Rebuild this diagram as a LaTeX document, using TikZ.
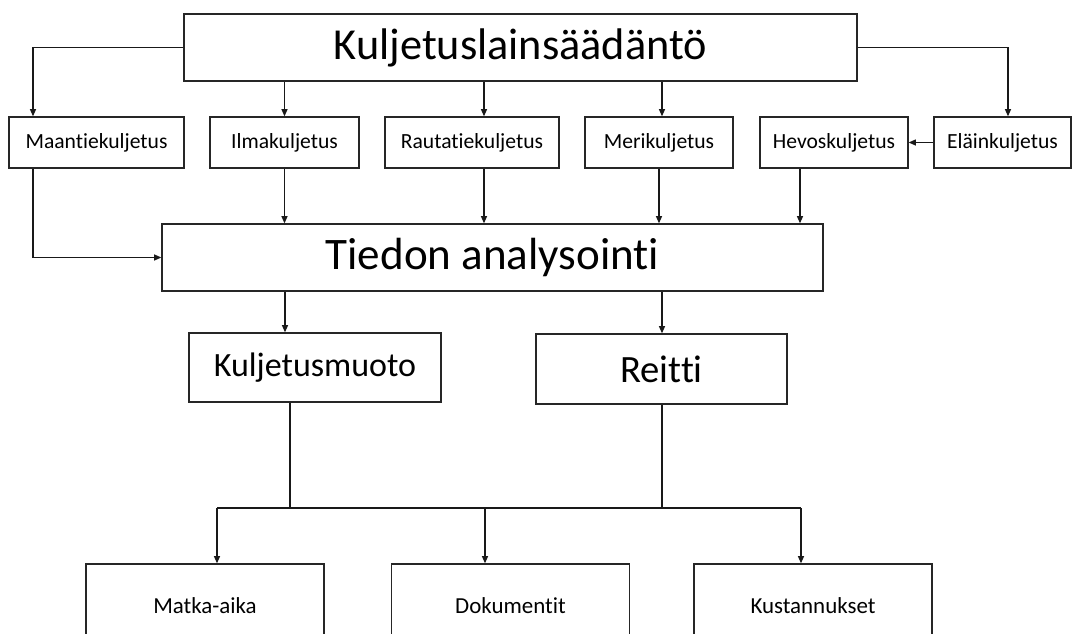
\documentclass[tikz,border=0pt]{standalone}
\usepackage{fontspec}
\setmainfont{Carlito}[Ligatures={NoCommon}]
\usetikzlibrary{arrows.meta}
\begin{document}
\begin{tikzpicture}[x=0.75pt,y=-0.75pt,
  box/.style={draw=black!85,line width=0.9pt,inner sep=0pt,align=center,text=black},
  rowbox/.style={box,minimum height=38.25pt,font=\fontsize{16.2}{20}\selectfont},
  botbox/.style={box,minimum width=178.5pt,minimum height=63pt,font=\fontsize{17.2}{20}\selectfont},
  conn/.style={line width=1pt,draw=black!90},
  arr/.style={conn,-{Triangle[length=5.5pt,width=4.5pt]}}]
\useasboundingbox (0,0) rectangle (1072,633);
\clip (0,0) rectangle (1072,633);
% nodes
\node[box,minimum width=504.75pt,minimum height=50.25pt,font=\fontsize{33.2}{38}\selectfont] (top) at (520.5,47.5) {Kuljetuslainsäädäntö};
\node[rowbox,minimum width=131.25pt] (maan) at (96.5,142.5) {Maantiekuljetus};
\node[rowbox,minimum width=111.75pt] (ilma) at (284.5,142.5) {Ilmakuljetus};
\node[rowbox,minimum width=130.5pt] (raut) at (472,142.5) {Rautatiekuljetus};
\node[rowbox,minimum width=111pt] (meri) at (659,142.5) {Merikuljetus};
\node[rowbox,minimum width=111pt] (hevos) at (834,142.5) {Hevoskuljetus};
\node[rowbox,minimum width=102.75pt] (elain) at (1002.5,142.5) {Eläinkuljetus};
\node[box,minimum width=495.75pt,minimum height=50.25pt,font=\fontsize{33.8}{38}\selectfont] (tied) at (492.5,257.5) {Tiedon analysointi};
\node[box,minimum width=189pt,minimum height=51.75pt,font=\fontsize{25.5}{30}\selectfont] (kulj) at (315,367.5) {Kuljetusmuoto};
\node[box,minimum width=188.25pt,minimum height=52.5pt,font=\fontsize{29}{34}\selectfont] (reitti) at (661.5,369) {Reitti};
\node[botbox] (matka) at (205,606) {Matka-aika};
\node[botbox] (doku) at (510.5,606) {Dokumentit};
\node[botbox] (kust) at (813,606) {Kustannukset};
% top to row
\draw[arr] (top.west) -| (33,0 |- maan.north);
\draw[arr] (top.east) -| (1008,0 |- elain.north);
\draw[arr] (284.5,0 |- top.south) -- (ilma.north);
\draw[arr] (484,0 |- top.south) -- (484,0 |- raut.north);
\draw[arr] (662,0 |- top.south) -- (662,0 |- meri.north);
\draw[arr] (elain.west) -- (hevos.east);
% row to analysis
\draw[arr] (33,0 |- maan.south) |- (tied.west);
\draw[arr] (ilma.south) -- (284.5,0 |- tied.north);
\draw[arr] (484,0 |- raut.south) -- (484,0 |- tied.north);
\draw[arr] (659,0 |- meri.south) -- (659,0 |- tied.north);
\draw[arr] (800,0 |- hevos.south) -- (800,0 |- tied.north);
% analysis to second level
\draw[arr] (285,0 |- tied.south) -- (285,0 |- kulj.north);
\draw[arr] (662,0 |- tied.south) -- (662,0 |- reitti.north);
% second level to bottom
\coordinate (jl) at (217,508);
\coordinate (jr) at (801,508);
\draw[conn] (290,0 |- kulj.south) -- (290,508);
\draw[conn] (662,0 |- reitti.south) -- (662,508);
\draw[conn] (jl) -- (jr);
\draw[arr] (jl) -- (217,0 |- matka.north);
\draw[arr] (485,508) -- (485,0 |- doku.north);
\draw[arr] (jr) -- (801,0 |- kust.north);
\end{tikzpicture}
\end{document}
